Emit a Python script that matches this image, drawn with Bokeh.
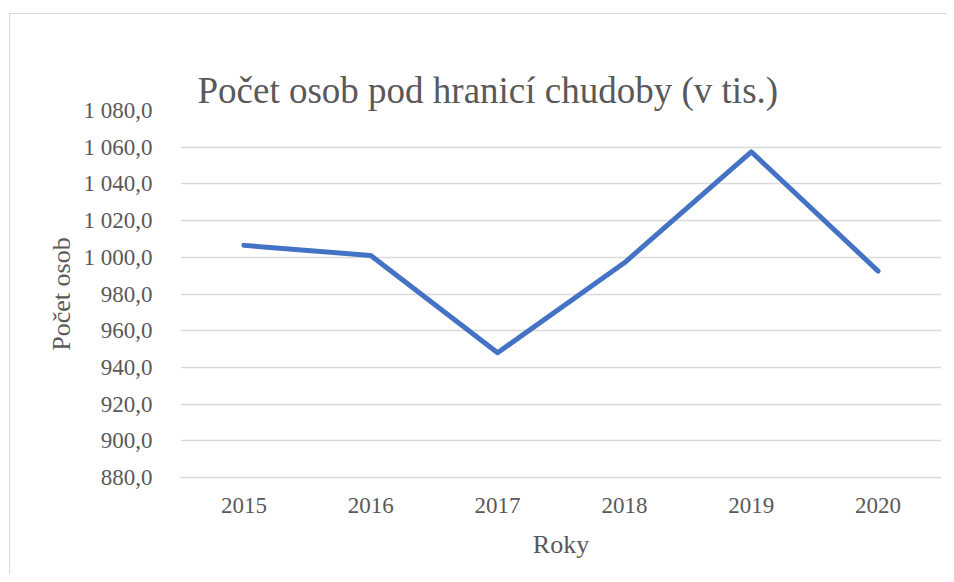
from bokeh.plotting import figure
from bokeh.models import FactorRange, Range1d, CustomJSTickFormatter, FixedTicker, InlineStyleSheet
from bokeh.embed import file_html
from bokeh.resources import INLINE

years = ["2015", "2016", "2017", "2018", "2019", "2020"]
values = [1006.5, 1001.0, 948.0, 997.0, 1057.5, 992.5]
y_ticks = [880, 900, 920, 940, 960, 980, 1000, 1020, 1040, 1060, 1080]

title_text = "Počet osob pod hranicí chudoby (v tis.)"
x_label = "Roky"
y_label = "Počet osob"

FONT = "Liberation Serif"
TXT = "#595959"
GRID = "#d9d9d9"

p = figure(width=946, height=574, x_range=FactorRange(*years), y_range=Range1d(880, 1080),
           output_backend="svg", toolbar_location=None,
           min_border_left=180, min_border_right=5, min_border_top=110, min_border_bottom=97)

p.line(x=years, y=values, line_color="#4472C4", line_width=5, line_join="round", line_cap="round")

p.title.text = title_text
p.title.text_font = FONT
p.title.text_font_size = "37px"
p.title.text_font_style = "normal"
p.title.text_color = TXT
p.title.align = "left"
p.title.offset = 17
p.title.standoff = 0

p.outline_line_color = None
p.xgrid.grid_line_color = None
p.ygrid.grid_line_color = GRID
p.ygrid.grid_line_width = 1.3

p.yaxis.ticker = FixedTicker(ticks=y_ticks)
p.yaxis.formatter = CustomJSTickFormatter(code="""
const s = tick.toFixed(1).replace('.', ',');
const parts = s.split(',');
const ip = parts[0].replace(/\\B(?=(\\d{3})+(?!\\d))/g, ' ');
return ip + ',' + parts[1];
""")

for ax in (p.xaxis, p.yaxis):
    ax.major_tick_line_color = None
    ax.minor_tick_line_color = None
    ax.major_label_text_font = FONT
    ax.major_label_text_font_size = "23px"
    ax.major_label_text_color = TXT
    ax.axis_label_text_font = FONT
    ax.axis_label_text_font_size = "26px"
    ax.axis_label_text_font_style = "normal"
    ax.axis_label_text_color = TXT

p.yaxis.axis_line_color = None
p.xaxis.axis_line_color = GRID
p.xaxis.axis_line_width = 1.3
p.xaxis.axis_label = x_label
p.yaxis.axis_label = y_label
p.xaxis.major_label_standoff = 14
p.yaxis.major_label_standoff = 22
p.xaxis.axis_label_standoff = 14
p.yaxis.axis_label_standoff = 5

p.stylesheets = [InlineStyleSheet(css="""
:host::after {
  content: '';
  position: absolute;
  left: 9px; top: 13px; right: -40px; bottom: -40px;
  border: none;
  border-left: 1.5px solid #d9d9d9;
  border-top: 1.5px solid #d9d9d9;
  pointer-events: none;
}
:host { overflow: hidden; }
""")]

open("out.html", "w").write(file_html(p, INLINE))
